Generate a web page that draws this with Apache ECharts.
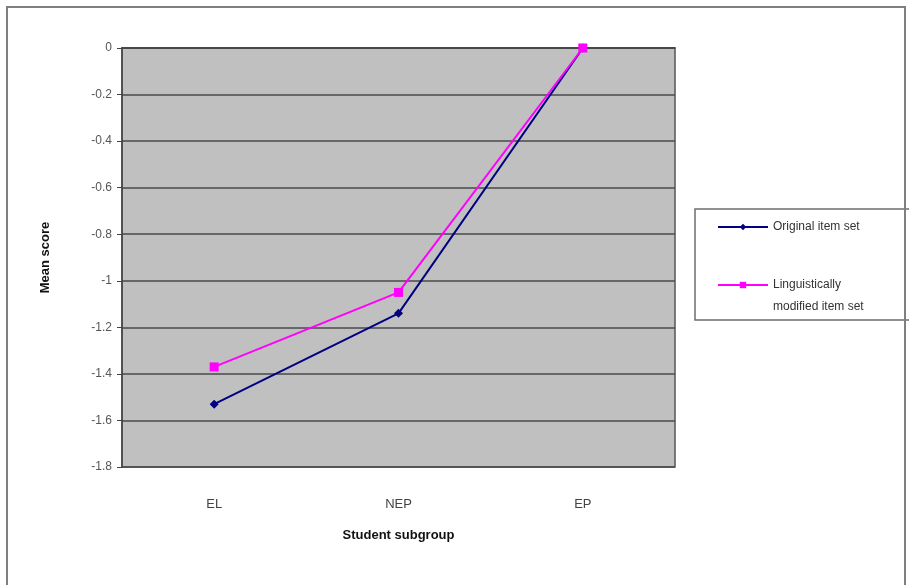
<!DOCTYPE html>
<html>
<head>
<meta charset="utf-8">
<script src="https://cdn.jsdelivr.net/npm/echarts@6/dist/echarts.min.js"></script>
<style>
  html, body { margin: 0; padding: 0; background: #ffffff; }
  #chart { width: 909px; height: 585px; }
</style>
</head>
<body>
<div id="chart"></div>
<script>
// Student subgroups on the category axis
const subgroups = ['EL', 'NEP', 'EP'];

// Mean scores per subgroup for each item set
const originalItemSet = [-1.53, -1.14, 0];
const modifiedItemSet = [-1.37, -1.05, 0];

// Series names shown in the legend
const seriesNames = ['Original item set', 'Linguistically\nmodified item set'];

const chart = echarts.init(document.getElementById('chart'), null, { renderer: 'canvas' });

const font = 'Liberation Sans, Arial, sans-serif';
const legendText = { fontFamily: font, fontSize: 12, color: '#333333', lineHeight: 22 };

chart.setOption({
  backgroundColor: '#ffffff',
  animation: false,
  graphic: [
    {
      // legend frame
      type: 'rect',
      shape: { x: 695, y: 209, width: 240, height: 111 },
      style: { fill: '#ffffff', stroke: '#6e6e6e', lineWidth: 1.5 },
      silent: true,
      z: 1
    },
    {
      // outer chart frame (open at the bottom edge)
      type: 'rect',
      shape: { x: 7, y: 7, width: 898, height: 600 },
      style: { fill: 'none', stroke: '#7f7f7f', lineWidth: 2 },
      silent: true,
      z: 2
    }
  ],
  grid: {
    left: 122,
    right: 909 - 675,
    top: 48,
    bottom: 585 - 467,
    show: true,
    backgroundColor: '#c0c0c0',
    borderColor: '#555555',
    borderWidth: 1.5
  },
  legend: [
    {
      left: 712,
      top: 211,
      itemWidth: 50,
      itemHeight: 8,
      z: 5,
      textStyle: legendText,
      data: [seriesNames[0]]
    },
    {
      // a leading blank line keeps the icon level with the first text line
      left: 712,
      top: 247,
      itemWidth: 50,
      itemHeight: 8,
      z: 5,
      textStyle: legendText,
      formatter: name => ' \n' + name,
      data: [seriesNames[1]]
    }
  ],
  xAxis: {
    type: 'category',
    data: subgroups,
    boundaryGap: true,
    name: 'Student subgroup',
    nameLocation: 'middle',
    nameGap: 62,
    nameTextStyle: { fontFamily: font, fontSize: 13, fontWeight: 'bold', color: '#111111' },
    axisLine: { lineStyle: { color: '#444444', width: 1.5 } },
    axisTick: { show: false },
    axisLabel: { margin: 31, fontFamily: font, fontSize: 13, color: '#444444' },
    splitLine: { show: false }
  },
  yAxis: {
    type: 'value',
    min: -1.8,
    max: 0,
    interval: 0.2,
    name: 'Mean score',
    nameLocation: 'middle',
    nameGap: 70,
    nameRotate: 90,
    nameTextStyle: { fontFamily: font, fontSize: 13, fontWeight: 'bold', color: '#111111' },
    axisLine: { show: true, lineStyle: { color: '#444444', width: 1.5 } },
    axisTick: { show: true, length: 5, lineStyle: { color: '#444444' } },
    axisLabel: { margin: 10, fontFamily: font, fontSize: 12, color: '#555555' },
    splitLine: { show: true, lineStyle: { color: '#4a4a4a', width: 1.5 } }
  },
  series: [
    {
      name: seriesNames[0],
      type: 'line',
      data: originalItemSet,
      symbol: 'diamond',
      symbolSize: 9,
      lineStyle: { color: '#000080', width: 2 },
      itemStyle: { color: '#000080' },
      z: 3
    },
    {
      name: seriesNames[1],
      type: 'line',
      data: modifiedItemSet,
      symbol: 'rect',
      symbolSize: 9,
      lineStyle: { color: '#ff00ff', width: 2 },
      itemStyle: { color: '#ff00ff' },
      z: 4
    }
  ]
});
</script>
</body>
</html>
